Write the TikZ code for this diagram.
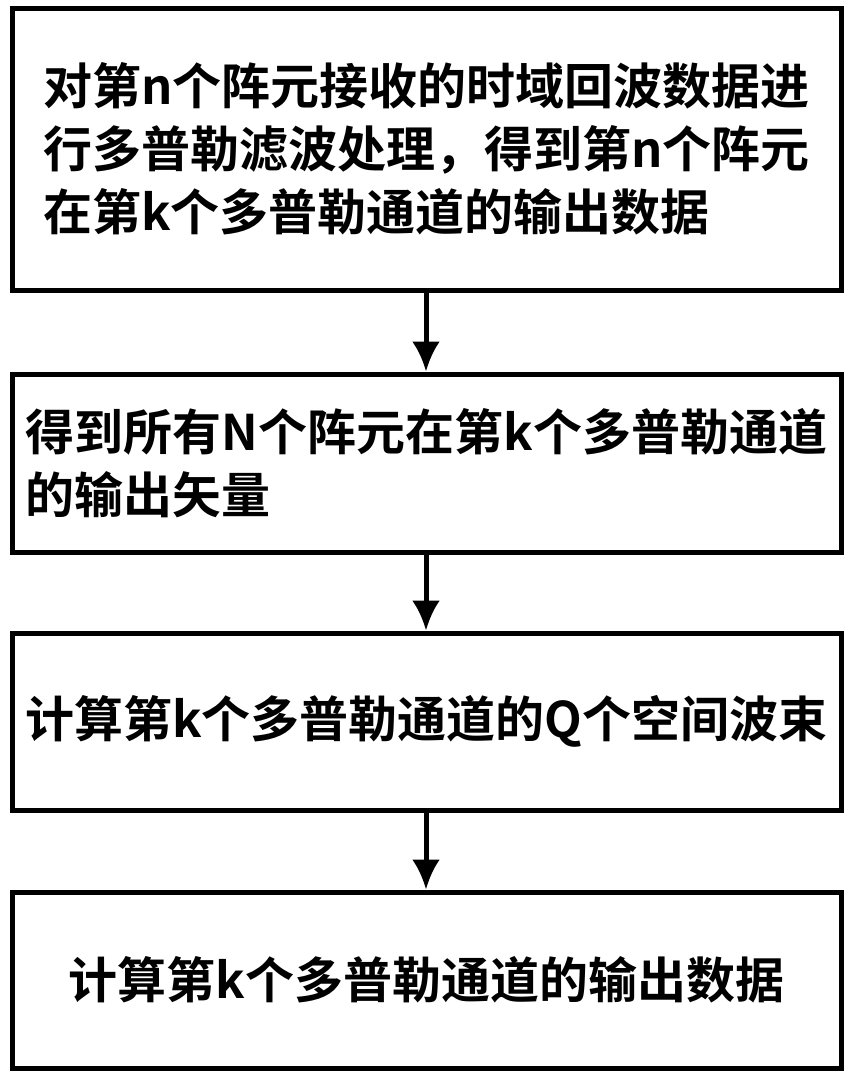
\documentclass[tikz,border=0pt]{standalone}
\usepackage{fontspec}
\setmainfont{Noto Sans CJK SC Bold}
\usetikzlibrary{arrows.meta}
\begin{document}
\begin{tikzpicture}[x=0.5pt, y=-0.5pt, >={Latex[length=15pt,width=14pt]},
  stepbox/.style={draw, line width=2.5pt, minimum width=414.5pt, align=left,
    font=\fontsize{24.5}{31.5}\selectfont, inner sep=0pt}]
\useasboundingbox (0,0) rectangle (851,1077);
\node[stepbox, minimum height=141pt] (s1) at (426.5,149) {对第n个阵元接收的时域回波数据进\\行多普勒滤波处理，得到第n个阵元\\在第k个多普勒通道的输出数据};
\node[stepbox, minimum height=89pt] (s2) at (426.5,463) {得到所有N个阵元在第k个多普勒通道\\的输出矢量};
\node[stepbox, minimum height=88.5pt] (s3) at (426.5,721.5) {计算第k个多普勒通道的Q个空间波束};
\node[stepbox, minimum height=88pt] (s4) at (426.5,980) {计算第k个多普勒通道的输出数据};

\draw[line width=2.5pt,->] (s1.south-|426,0)--(s2.north-|426,0);
\draw[line width=2.5pt,->] (s2.south-|426,0)--(s3.north-|426,0);
\draw[line width=2.5pt,->] (s3.south-|426,0)--(s4.north-|426,0);
\end{tikzpicture}
\end{document}
